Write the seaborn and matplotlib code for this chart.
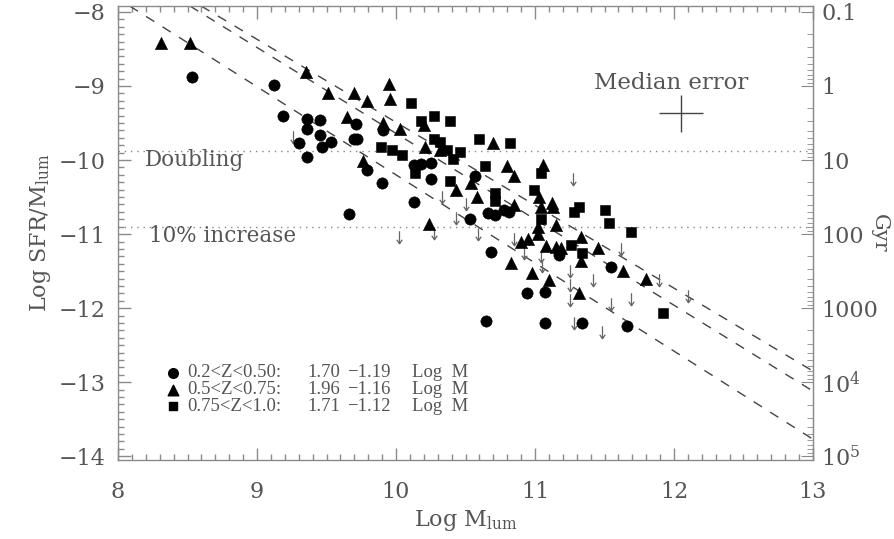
import matplotlib.pyplot as plt
import numpy as np
import pandas as pd
import seaborn as sns
from matplotlib.path import Path
from matplotlib.ticker import MultipleLocator

# 0.2<Z<0.50 (circles)
CIRCLE_LOGM = [8.53, 9.12, 9.19, 9.36, 9.45, 9.36, 9.45, 9.30, 9.53, 9.47,
               9.36, 9.71, 9.70, 9.72, 9.79, 9.90, 9.66, 9.91, 10.13, 10.18,
               10.25, 10.25, 10.13, 10.53, 10.57, 10.66, 10.71, 10.78, 10.81,
               10.68, 11.17, 11.55, 10.94, 11.07, 10.65, 11.07, 11.34, 11.66]
CIRCLE_SSFR = [-8.88, -8.99, -9.41, -9.45, -9.46, -9.58, -9.66, -9.77, -9.75,
               -9.83, -9.96, -9.51, -9.72, -9.72, -10.14, -10.31, -10.73,
               -9.59, -10.07, -10.05, -10.04, -10.26, -10.56, -10.80, -10.22,
               -10.72, -10.74, -10.68, -10.70, -11.24, -11.28, -11.44, -11.80,
               -11.78, -12.17, -12.20, -12.20, -12.24]

# 0.5<Z<0.75 (triangles)
TRIANGLE_LOGM = [8.31, 8.52, 9.35, 9.51, 9.70, 9.79, 9.95, 9.96, 9.65, 9.76,
                 9.91, 10.03, 10.20, 10.21, 10.32, 10.43, 10.24, 10.70, 10.80,
                 10.85, 11.06, 10.54, 10.58, 10.85, 11.03, 11.04, 11.12, 11.13,
                 11.15, 10.90, 10.95, 11.02, 11.02, 11.08, 11.15, 11.19, 11.33,
                 11.33, 11.45, 11.63, 11.80, 10.83, 10.98, 11.10, 11.32]
TRIANGLE_SSFR = [-8.42, -8.42, -8.81, -9.09, -9.09, -9.20, -8.97, -9.17, -9.42,
                 -10.01, -9.50, -9.58, -9.53, -9.83, -9.86, -10.41, -10.87,
                 -9.77, -10.08, -10.22, -10.07, -10.31, -10.50, -10.61, -10.50,
                 -10.63, -10.58, -10.63, -10.88, -11.10, -11.06, -10.90, -11.00,
                 -11.16, -11.17, -11.19, -11.04, -11.36, -11.19, -11.50, -11.61,
                 -11.39, -11.53, -11.62, -11.79]

# 0.75<Z<1.0 (squares)
SQUARE_LOGM = [10.11, 10.27, 10.39, 10.18, 9.89, 9.97, 10.04, 10.14, 10.27,
               10.32, 10.37, 10.46, 10.41, 10.39, 10.60, 10.82, 10.64, 11.04,
               10.71, 10.71, 10.99, 11.04, 11.28, 11.32, 11.50, 11.53, 11.69,
               11.26, 11.34, 11.92]
SQUARE_SSFR = [-9.23, -9.41, -9.47, -9.47, -9.82, -9.87, -9.93, -10.17, -9.72,
               -9.76, -9.86, -9.89, -9.99, -10.28, -9.71, -9.77, -10.08, -10.18,
               -10.45, -10.55, -10.41, -10.79, -10.70, -10.64, -10.68, -10.85,
               -10.97, -11.15, -11.26, -12.06]

# upper limits
LIMIT_LOGM = [9.26, 10.33, 10.50, 10.43, 10.27, 10.02, 10.59, 10.85, 10.92,
              11.04, 11.05, 11.25, 11.25, 11.25, 11.27, 11.42, 11.62, 11.69,
              11.55, 11.48, 11.28, 11.89, 12.10]
LIMIT_SSFR = [-9.69, -10.50, -10.59, -10.78, -10.99, -11.04, -11.00, -11.07,
              -11.26, -11.30, -11.43, -11.50, -11.69, -11.89, -10.25, -11.62,
              -11.20, -11.88, -11.95, -12.32, -12.20, -11.62, -11.84]

FIT_LABELS = ["0.2<Z<0.50:", "0.5<Z<0.75:", "0.75<Z<1.0:"]
FIT_INTERCEPT = [1.70, 1.96, 1.71]
FIT_SLOPE = [-1.19, -1.16, -1.12]

DOUBLING = -9.88
TEN_PERCENT = -10.91

MEDIAN_ERR_X, MEDIAN_ERR_Y = 12.05, -9.37
MEDIAN_ERR_DX, MEDIAN_ERR_DY = 0.16, 0.25

GYR_TICKS = [-8, -9, -10, -11, -12, -13, -14]
GYR_LABELS = ["0.1", "1", "10", "100", "1000", "10$^4$", "10$^5$"]

GREY = "#555555"
AXC = "#8a8a8a"
LEG_FONT = "Liberation Serif"


def main():
    sns.set_style("ticks")
    plt.rcParams["font.family"] = ["DejaVu Serif"]
    plt.rcParams["mathtext.fontset"] = "dejavuserif"

    fig = plt.figure(figsize=(8.95, 5.39), dpi=100)
    ax = fig.add_axes([118 / 895, 1 - 460 / 539, 695 / 895, 454 / 539])

    groups = [
        (CIRCLE_LOGM, CIRCLE_SSFR, "o", 66),
        (TRIANGLE_LOGM, TRIANGLE_SSFR, "^", 78),
        (SQUARE_LOGM, SQUARE_SSFR, "s", 54),
    ]
    for logm, ssfr, marker, size in groups:
        df = pd.DataFrame({"logm": logm, "ssfr": ssfr})
        sns.scatterplot(data=df, x="logm", y="ssfr", marker=marker, s=size,
                        color="black", edgecolor="black", linewidth=0.4,
                        ax=ax, legend=False, zorder=3)

    arrow = Path([(0, 0.5), (0, -0.5), (-0.22, -0.18), (0, -0.5), (0.22, -0.18)],
                 [Path.MOVETO, Path.LINETO, Path.MOVETO, Path.LINETO, Path.LINETO])
    ax.plot(LIMIT_LOGM, LIMIT_SSFR, ls="none", marker=arrow, markersize=9,
            markerfacecolor="none", markeredgecolor="#666666",
            markeredgewidth=0.9, zorder=2)

    for a, b in zip(FIT_INTERCEPT, FIT_SLOPE):
        ax.axline((0, a), slope=b, color="#444444", lw=1.0, ls=(0, (7, 7)),
                  zorder=1)

    for yv in (DOUBLING, TEN_PERCENT):
        ax.axhline(yv, color="#888888", lw=1.0, ls=(0, (1, 3.5)), zorder=1)

    ax.text(8.19, -10.0, "Doubling", fontsize=15.5, color=GREY, va="center")
    ax.text(8.22, -11.03, "10% increase", fontsize=15.5, color=GREY,
            va="center")

    ax.errorbar(MEDIAN_ERR_X, MEDIAN_ERR_Y, xerr=MEDIAN_ERR_DX,
                yerr=MEDIAN_ERR_DY, color="#444444", lw=1.0, capsize=0)
    ax.text(11.98, -8.96, "Median error", fontsize=16.5, color=GREY,
            ha="center", va="center")

    # legend with fit coefficients
    rows_y = [0.192, 0.155, 0.118]
    leg_markers = ["o", "^", "s"]
    leg_sizes = [48, 58, 40]
    cols = [0.100, 0.272, 0.329, 0.423]
    for i, lab in enumerate(FIT_LABELS):
        ax.scatter([0.079], [rows_y[i]], marker=leg_markers[i], s=leg_sizes[i],
                   color="black", transform=ax.transAxes, zorder=3)
        texts = [lab, f"{FIT_INTERCEPT[i]:.2f}",
                 f"\u2212{abs(FIT_SLOPE[i]):.2f}", "Log  M"]
        for xc, t in zip(cols, texts):
            ax.text(xc, rows_y[i], t, transform=ax.transAxes, fontsize=13.5,
                    family=LEG_FONT, color=GREY, va="center")

    ax.set_xlim(8, 13)
    ax.set_ylim(-14.05, -7.92)
    ax.set_xticks([8, 9, 10, 11, 12, 13])
    ax.set_yticks([-8, -9, -10, -11, -12, -13, -14])
    ax.xaxis.set_minor_locator(MultipleLocator(0.1))
    ax.yaxis.set_minor_locator(MultipleLocator(0.1))
    ax.tick_params(which="both", direction="in", top=True, right=False,
                   color=AXC, labelcolor=GREY, labelsize=16, width=1.0)
    ax.tick_params(which="major", length=9)
    ax.tick_params(which="minor", length=4)
    ax.tick_params(axis="x", pad=15)
    ax.tick_params(axis="y", pad=9)
    for sp in ax.spines.values():
        sp.set_color(AXC)
        sp.set_linewidth(1.0)

    ax.set_xlabel("Log M$_{\\rm lum}$", fontsize=16, color=GREY, labelpad=4)
    ax.set_ylabel("Log SFR/M$_{\\rm lum}$", fontsize=16, color=GREY, labelpad=4)

    sec = ax.secondary_yaxis("right")
    sec.set_yticks(GYR_TICKS, labels=GYR_LABELS)
    minor = [-d - np.log10(m) for d in range(8, 14) for m in range(2, 10)]
    sec.set_yticks(minor, minor=True)
    sec.tick_params(which="both", direction="in", color=AXC, labelcolor=GREY,
                    labelsize=16, pad=6)
    sec.tick_params(which="major", length=9)
    sec.tick_params(which="minor", length=4)
    sec.spines["right"].set_color(AXC)
    sec.set_ylabel("Gyr", fontsize=15, color=GREY, rotation=270, labelpad=8)

    fig.savefig("out.png", dpi=100)


if __name__ == "__main__":
    main()
